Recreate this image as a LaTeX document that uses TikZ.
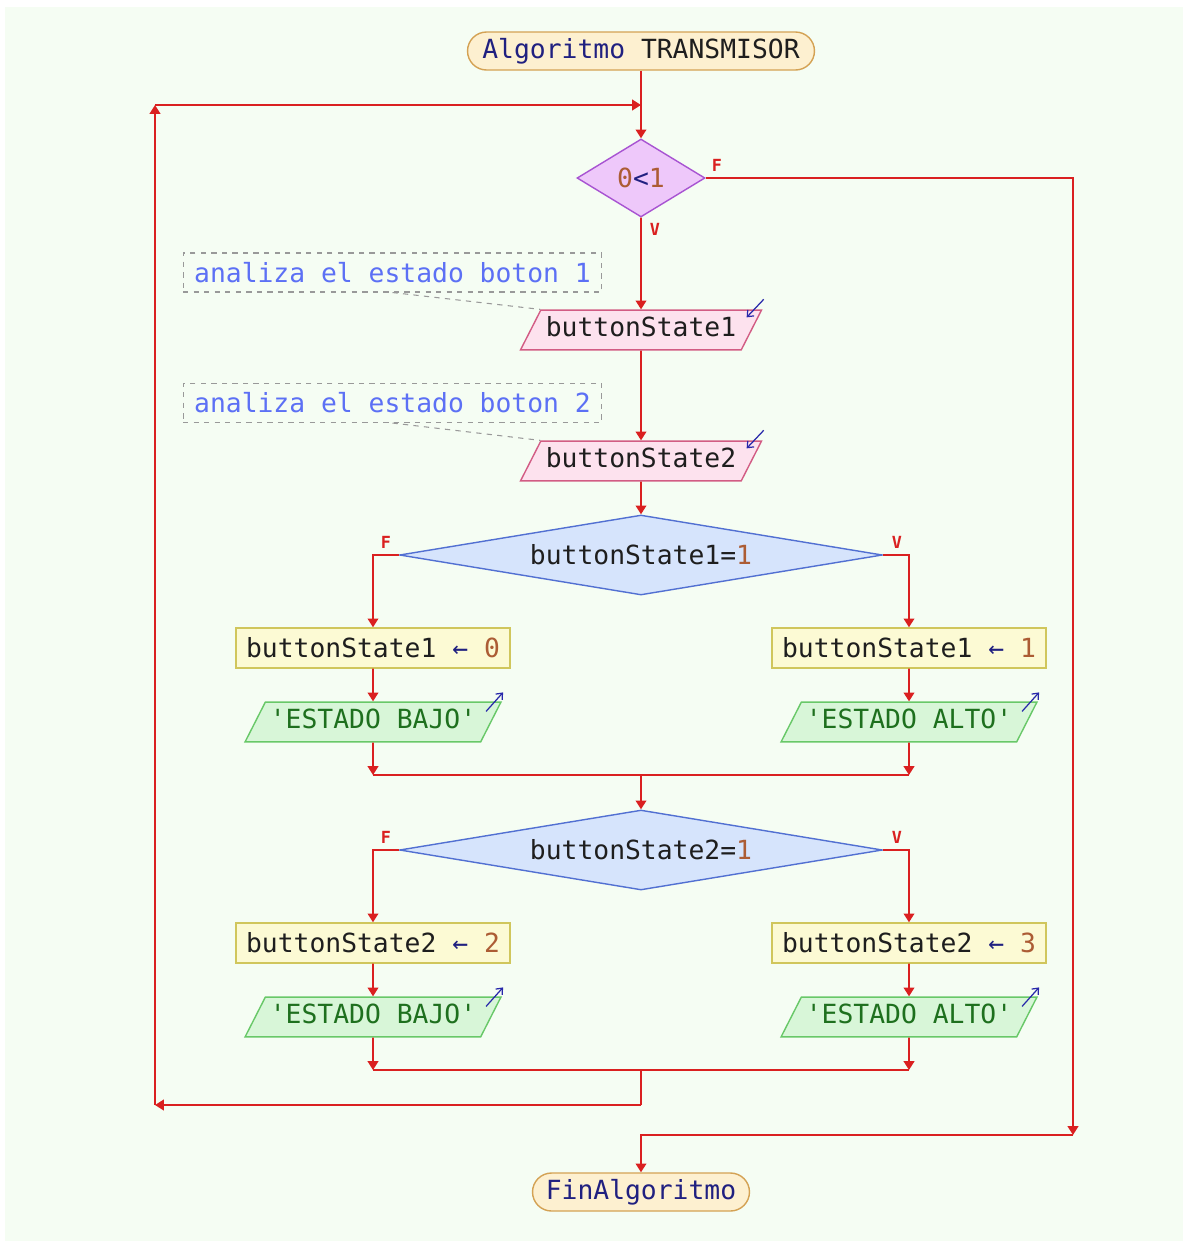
\documentclass[tikz,border=0pt]{standalone}
\usepackage{fontspec}
\setmainfont{DejaVu Sans Mono}
\usetikzlibrary{shapes.geometric,arrows.meta}

\definecolor{bgc}{RGB}{245,253,243}
\definecolor{flowred}{RGB}{218,32,32}
\definecolor{termfill}{RGB}{253,240,208}
\definecolor{termline}{RGB}{212,162,84}
\definecolor{loopfill}{RGB}{238,200,250}
\definecolor{loopline}{RGB}{168,84,210}
\definecolor{infill}{RGB}{253,226,238}
\definecolor{inline}{RGB}{210,92,132}
\definecolor{swfill}{RGB}{214,228,252}
\definecolor{swline}{RGB}{82,112,210}
\definecolor{setfill}{RGB}{252,250,212}
\definecolor{setline}{RGB}{208,198,92}
\definecolor{outfill}{RGB}{216,246,216}
\definecolor{outline}{RGB}{104,200,104}
\definecolor{outtext}{RGB}{30,112,30}
\definecolor{kwc}{RGB}{32,32,128}
\definecolor{numc}{RGB}{172,92,52}
\definecolor{notec}{RGB}{92,112,245}
\definecolor{iconc}{RGB}{40,40,170}
\definecolor{textc}{RGB}{30,30,30}

\newcommand\codefont{\fontsize{15}{18}\selectfont\spaceskip=0.602em\relax\xspaceskip=0.602em\relax}

\tikzset{
  flow/.style={draw=flowred, line width=1.1pt},
  arr/.style={flow, -{Triangle[width=6pt,length=5pt]}},
  term/.style={draw=termline, fill=termfill, line width=0.8pt, rounded corners=0.38cm,
    minimum height=0.76cm, inner sep=0pt, text=textc, font=\codefont},
  loopbox/.style={diamond, aspect=1.6, draw=loopline, fill=loopfill, line width=0.8pt,
    minimum width=2.56cm, minimum height=1.56cm, inner sep=0pt, font=\codefont},
  swbox/.style={diamond, aspect=6, draw=swline, fill=swfill, line width=0.8pt,
    minimum width=9.66cm, minimum height=1.6cm, inner sep=0pt, text=textc, font=\codefont},
  slanted/.style={trapezium, trapezium left angle=63, trapezium right angle=117,
    line width=0.8pt, text height=11pt, text depth=4pt, inner ysep=0.135cm,
    font=\codefont},
  inbox/.style={slanted, draw=inline, fill=infill, inner xsep=0.1cm, text=textc},
  setbox/.style={rectangle, draw=setline, fill=setfill, line width=0.8pt,
    minimum width=5.48cm, minimum height=0.8cm, inner sep=0pt, text=textc, font=\codefont},
  outbox/.style={slanted, draw=outline, fill=outfill, inner xsep=0.09cm, text=outtext},
  notebox/.style={rectangle, draw=black!40, dashed, line width=0.6pt,
    minimum width=8.38cm, minimum height=0.78cm, inner sep=0pt,
    text=notec, font=\codefont},
  lbl/.style={text=flowred, font=\fontsize{9.5}{11}\selectfont\bfseries, inner sep=0pt},
  icon/.style={draw=iconc, line width=0.7pt, -{Straight Barb[length=3pt,width=5pt]}}
}

\begin{document}
\begin{tikzpicture}[x=0.02cm, y=-0.02cm]

  % Page and background
  \useasboundingbox (0,0) rectangle (1186,1245);
  \fill[bgc] (5,7) rectangle (1183,1241);

  % Start and end
  \node[term, minimum width=6.94cm] (start) at (641,51) {{\color{kwc}Algoritmo} TRANSMISOR};
  \node[term, minimum width=4.34cm] (fin) at (641,1192) {\color{kwc}FinAlgoritmo};

  % Endless loop
  \node[loopbox] (loop) at (641,178) {{\color{numc}0}{\color{kwc}<}{\color{numc}1}};
  \node[lbl] (loopF) at (717,165) {F};
  \node[lbl] (loopV) at (655,229) {V};

  % Reading the two buttons
  \node[notebox] (note1) at (392.5,272.5) {analiza el estado boton 1};
  \node[inbox] (read1) at (641,330) {buttonState1};
  \node[notebox] (note2) at (392.5,403) {analiza el estado boton 2};
  \node[inbox] (read2) at (641,461) {buttonState2};

  \draw[black!40, dashed, line width=0.6pt] (note1.south) -- (read1.top left corner);
  \draw[black!40, dashed, line width=0.6pt] (note2.south) -- (read2.top left corner);
  \draw[icon] ([shift={(0.02cm,0.2cm)}]read1.top right corner) -- ++(-0.34cm,-0.36cm);
  \draw[icon] ([shift={(0.02cm,0.2cm)}]read2.top right corner) -- ++(-0.34cm,-0.36cm);

  \draw[arr] (start) -- (loop);
  \draw[arr] (loop) -- (read1);
  \draw[arr] (read1) -- (read2);

  % One decision per button
  \foreach \i/\lv/\rv/\dy in {1/0/1/0, 2/2/3/295} {
    \node[swbox] (sw\i) at (641,555+\dy) {buttonState\i=\textcolor{numc}{1}};
    \node[lbl] (swF\i) at (386,542+\dy) {F};
    \node[lbl] (swV\i) at (897,542+\dy) {V};

    \node[setbox] (setL\i) at (373,648+\dy) {buttonState\i{} \textcolor{kwc}{←} \textcolor{numc}{\lv}};
    \node[setbox] (setR\i) at (909,648+\dy) {buttonState\i{} \textcolor{kwc}{←} \textcolor{numc}{\rv}};
    \node[outbox] (outL\i) at (373,722+\dy) {\textquotesingle ESTADO BAJO\textquotesingle};
    \node[outbox] (outR\i) at (909,722+\dy) {\textquotesingle ESTADO ALTO\textquotesingle};

    \draw[icon] ([shift={(-0.32cm,-0.2cm)}]outL\i.top right corner) -- ++(0.34cm,0.38cm);
    \draw[icon] ([shift={(-0.32cm,-0.2cm)}]outR\i.top right corner) -- ++(0.34cm,0.38cm);

    \coordinate (joinL\i) at (373,775+\dy);
    \coordinate (joinR\i) at (909,775+\dy);
    \coordinate (join\i) at (641,775+\dy);

    \draw[arr] (sw\i.west) -| (setL\i.north);
    \draw[arr] (sw\i.east) -| (setR\i.north);
    \draw[arr] (setL\i) -- (outL\i);
    \draw[arr] (setR\i) -- (outR\i);
    \draw[arr] (outL\i) -- (joinL\i);
    \draw[arr] (outR\i) -- (joinR\i);
    \draw[flow] (joinL\i) -- (joinR\i);
  }

  \draw[arr] (read2) -- (sw1);
  \draw[arr] (join1) -- (sw2);

  % Back to the loop test
  \coordinate (back1) at (641,1105);
  \coordinate (back2) at (155,1105);
  \coordinate (back3) at (155,105);
  \coordinate (back4) at (641,105);
  \draw[flow] (join2) -- (back1);
  \draw[arr] (back1) -- (back2);
  \draw[arr] (back2) -- (back3);
  \draw[arr] (back3) -- (back4);

  % Leaving the loop
  \coordinate (exit1) at (1073,1135);
  \draw[arr] (loop.east) -| (exit1);
  \draw[arr] (exit1) -| (fin.north);

\end{tikzpicture}
\end{document}
